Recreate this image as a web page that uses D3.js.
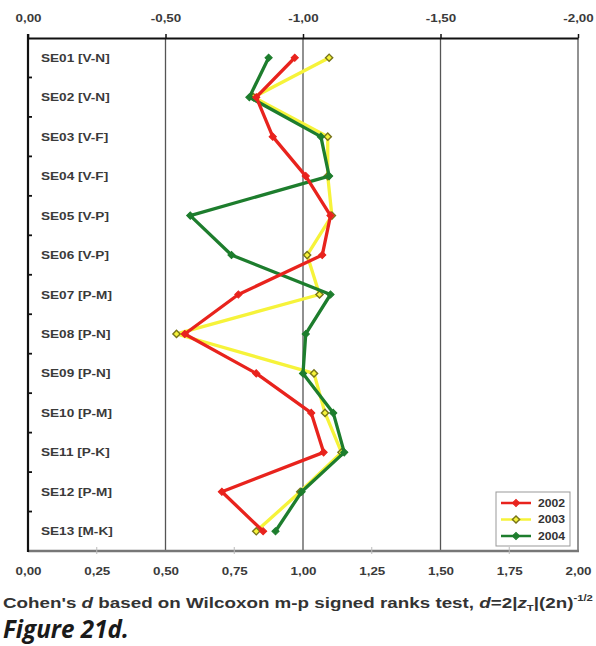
<!DOCTYPE html>
<html>
<head>
<meta charset="utf-8">
<script src="https://cdn.jsdelivr.net/npm/d3@7"></script>
<style>
  html, body { margin: 0; padding: 0; background: #fff; }
  svg { display: block; }
</style>
</head>
<body>
<svg id="chart" width="596" height="646"></svg>
<script>
// Cohen's d per session, three years
const categories = ["SE01 [V-N]", "SE02 [V-N]", "SE03 [V-F]", "SE04 [V-F]", "SE05 [V-P]",
  "SE06 [V-P]", "SE07 [P-M]", "SE08 [P-N]", "SE09 [P-N]", "SE10 [P-M]",
  "SE11 [P-K]", "SE12 [P-M]", "SE13 [M-K]"];
const values2002 = [0.97, 0.83, 0.89, 1.01, 1.10, 1.07, 0.765, 0.57, 0.83, 1.03, 1.075, 0.705, 0.855];
const values2003 = [1.095, 0.82, 1.09, 1.09, 1.105, 1.015, 1.06, 0.54, 1.04, 1.08, 1.14, 0.99, 0.83];
const values2004 = [0.875, 0.805, 1.065, 1.095, 0.59, 0.74, 1.10, 1.01, 1.0, 1.11, 1.15, 0.995, 0.90];
const years = ["2002", "2003", "2004"];
const bottomTicks = [0, 0.25, 0.5, 0.75, 1, 1.25, 1.5, 1.75, 2];
const topTicks = [0, 0.5, 1, 1.5, 2];
const gridValues = [0.5, 1, 1.5];

const series = [
  { name: years[0], values: values2002, color: "#e8231d", marker: "fill" },
  { name: years[1], values: values2003, color: "#f6f33a", marker: "open" },
  { name: years[2], values: values2004, color: "#1d7d2d", marker: "fill" }
];

const FONT = "Liberation Sans, Arial, sans-serif";
const WIDE = 1.22; // horizontal stretch used for the chart lettering

const svg = d3.select("#chart");
const plotLeft = 28, plotRight = 578, plotTop = 38, plotBottom = 551;

const x = d3.scaleLinear().domain([0, 2]).range([plotLeft, plotRight]);
const y = d3.scaleBand().domain(categories).range([plotTop, plotBottom]);
const fmt = v => d3.format(".2f")(v).replace(".", ",");

// vertical gridlines
svg.append("g").selectAll("line").data(gridValues).join("line")
  .attr("x1", d => x(d)).attr("x2", d => x(d))
  .attr("y1", plotTop).attr("y2", plotBottom)
  .attr("stroke", "#555").attr("stroke-width", 1.3);

// frame
svg.append("line").attr("x1", x(2)).attr("x2", x(2)).attr("y1", plotTop).attr("y2", plotBottom)
  .attr("stroke", "#777").attr("stroke-width", 1.6);
svg.append("line").attr("x1", plotLeft).attr("x2", plotRight + 1).attr("y1", plotBottom).attr("y2", plotBottom)
  .attr("stroke", "#777").attr("stroke-width", 2.6);

// bottom axis
const xAxisB = d3.axisBottom(x).tickValues(bottomTicks).tickFormat(fmt).tickSize(0).tickPadding(16);
const gB = svg.append("g").attr("transform", `translate(0,${plotBottom})`).call(xAxisB);
gB.select(".domain").remove();
gB.selectAll("text").attr("font-family", FONT)
  .attr("font-size", 11).attr("font-weight", "bold").attr("fill", "#3a3a3a")
  .attr("transform", `scale(${WIDE},1)`);
svg.append("g").selectAll("line").data(bottomTicks.filter(d => !gridValues.includes(d) && d > 0 && d < 2)).join("line")
  .attr("x1", d => x(d)).attr("x2", d => x(d))
  .attr("y1", plotBottom - 4).attr("y2", plotBottom + 3)
  .attr("stroke", "#bbb").attr("stroke-width", 1);

// top axis with negated labels
const xAxisT = d3.axisTop(x).tickValues(topTicks).tickFormat(d => d === 0 ? "0,00" : "-" + fmt(d))
  .tickSizeInner(4).tickSizeOuter(0).tickPadding(12);
const gT = svg.append("g").attr("transform", `translate(0,${plotTop})`).call(xAxisT);
gT.select(".domain").attr("stroke", "#111").attr("stroke-width", 2);
gT.selectAll(".tick line").attr("stroke", "#111").attr("stroke-width", 1.5);
gT.selectAll("text").attr("font-family", FONT)
  .attr("font-size", 11).attr("font-weight", "bold").attr("fill", "#3a3a3a")
  .attr("transform", `scale(${WIDE},1)`);

// left axis: ticks between categories, labels inside the plot
const boundaries = categories.slice(1).map(c => y(c));
svg.append("line").attr("x1", plotLeft).attr("x2", plotLeft).attr("y1", plotTop - 4).attr("y2", plotBottom + 1)
  .attr("stroke", "#111").attr("stroke-width", 2.2);
svg.append("g").selectAll("line").data(boundaries).join("line")
  .attr("x1", plotLeft).attr("x2", plotLeft + 4).attr("y1", d => d).attr("y2", d => d)
  .attr("stroke", "#111").attr("stroke-width", 1.8);
svg.append("g").selectAll("text").data(categories).join("text")
  .attr("transform", d => `translate(${plotLeft + 13},${y(d) + y.bandwidth() / 2 + 4}) scale(${WIDE * 0.97},1)`)
  .attr("font-family", FONT)
  .attr("font-size", 11.5).attr("font-weight", "bold").attr("fill", "#3a3a3a")
  .text(d => d);

// series lines and markers
const line = d3.line()
  .x(d => x(d[1]))
  .y(d => y(d[0]) + y.bandwidth() / 2);

const diamond = d3.symbol(d3.symbolSquare, 26)();
function drawMarker(g, s, cx, cy) {
  const m = g.append("path").attr("d", diamond)
    .attr("transform", `translate(${cx},${cy}) rotate(45)`);
  if (s.marker === "open") {
    m.attr("fill", s.color).attr("stroke", "#77741a").attr("stroke-width", 1.4);
  } else {
    m.attr("fill", s.color).attr("stroke", s.color).attr("stroke-width", 1);
  }
}

// draw order: yellow underneath, then green, then red
const order = [series[1], series[2], series[0]];
order.forEach(s => {
  const pts = categories.map((c, i) => [c, s.values[i]]);
  const g = svg.append("g");
  g.append("path").datum(pts).attr("d", line)
    .attr("fill", "none").attr("stroke", s.color).attr("stroke-width", 3.3)
    .attr("stroke-linejoin", "round");
  pts.forEach(p => drawMarker(g, s, x(p[1]), y(p[0]) + y.bandwidth() / 2));
});

// legend
const lg = svg.append("g").attr("transform", "translate(496,492)");
lg.append("rect").attr("width", 74).attr("height", 54)
  .attr("fill", "#fff").attr("stroke", "#999").attr("stroke-width", 1);
series.forEach((s, i) => {
  const cy = 11 + i * 16.5;
  lg.append("line").attr("x1", 5).attr("x2", 35).attr("y1", cy).attr("y2", cy)
    .attr("stroke", s.color).attr("stroke-width", 2.5);
  drawMarker(lg, s, 20, cy);
  lg.append("text").attr("transform", `translate(42,${cy + 3.5}) scale(${WIDE},1)`)
    .attr("font-family", FONT)
    .attr("font-size", 10).attr("font-weight", "bold").attr("fill", "#333")
    .text(s.name);
});

// axis title
const title = svg.append("text").attr("x", 0).attr("y", 0)
  .attr("font-family", FONT).attr("font-weight", "bold")
  .attr("font-size", 15).attr("fill", "#333");
title.append("tspan").text("Cohen's ");
title.append("tspan").attr("font-style", "italic").text("d");
title.append("tspan").text(" based on Wilcoxon m-p signed ranks test, ");
title.append("tspan").attr("font-style", "italic").text("d");
title.append("tspan").text("=2|");
title.append("tspan").attr("font-style", "italic").text("z");
title.append("tspan").attr("font-size", 9).attr("dy", 3).text("T");
title.append("tspan").attr("dy", -3).text("|(2n)");
title.append("tspan").attr("font-size", 9).attr("dy", -7).text("-1/2");
const tw = title.node().getBBox().width;
title.attr("transform", `translate(3,607.5) scale(${590 / tw},1)`);

// figure caption
svg.append("text")
  .attr("transform", "translate(3,638) scale(0.97,1)")
  .attr("font-family", "Open Sans, sans-serif")
  .attr("font-size", 25).attr("font-style", "italic").attr("font-weight", 700)
  .attr("fill", "#1a1a1a")
  .text("Figure 21d.");
</script>
</body>
</html>
